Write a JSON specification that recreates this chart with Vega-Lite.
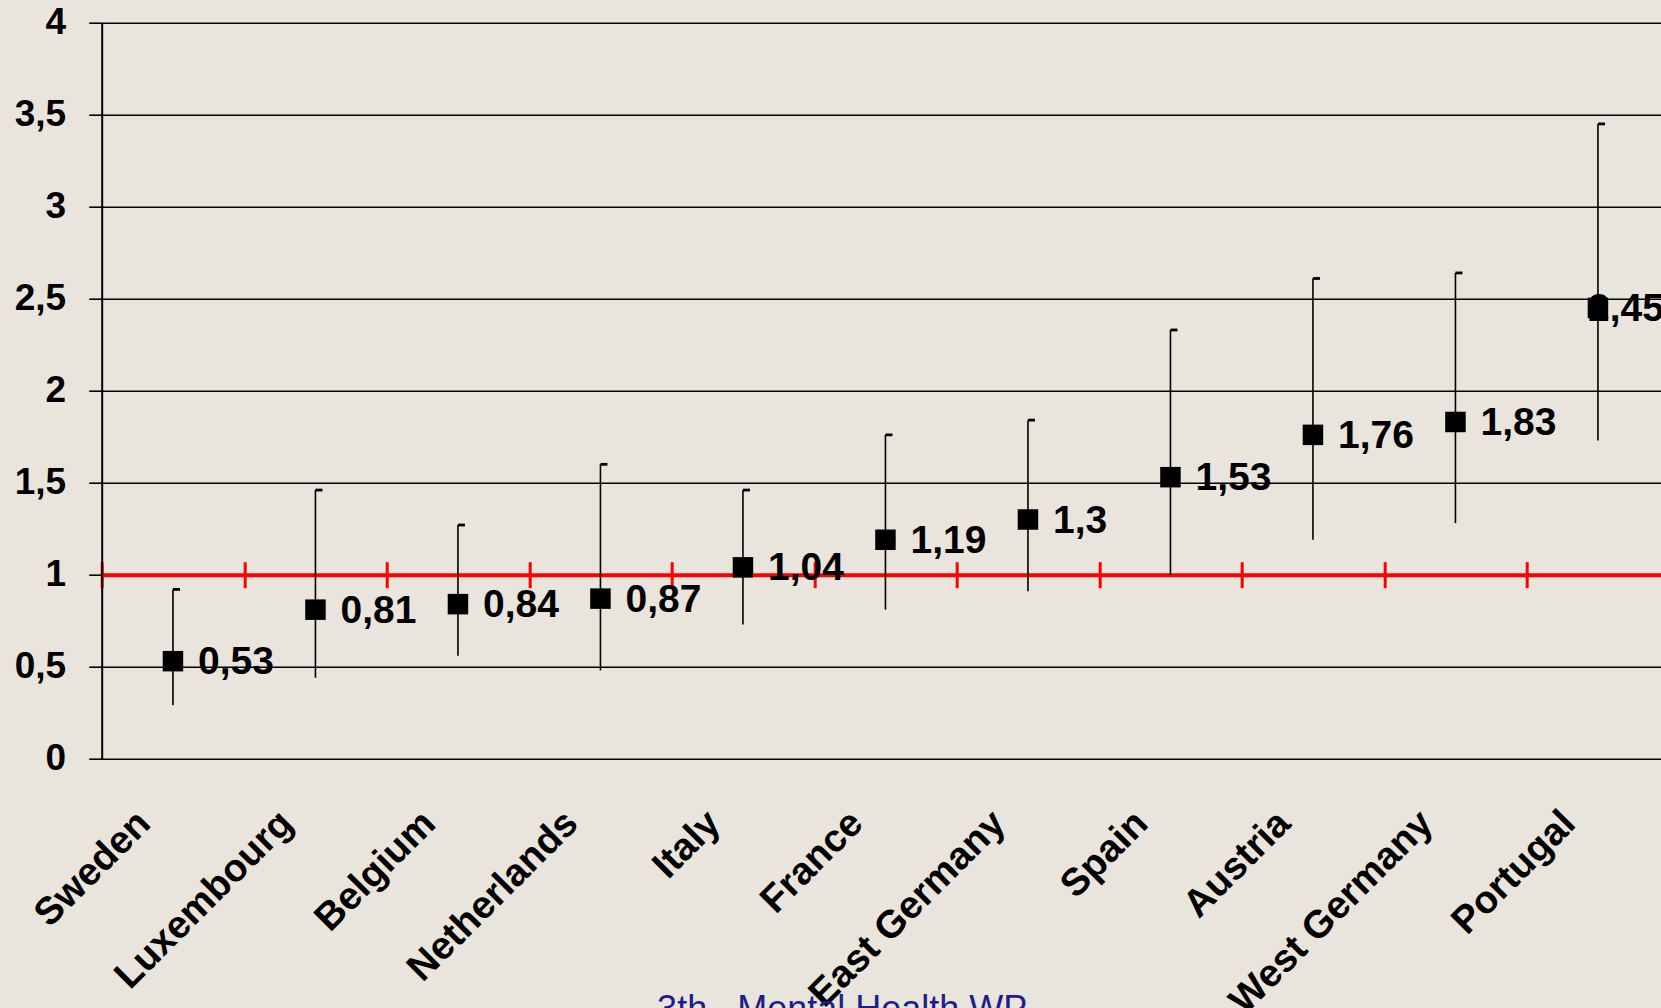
{
  "$schema": "https://vega.github.io/schema/vega-lite/v6.json",
  "autosize": "none",
  "width": 1559.3,
  "height": 736,
  "padding": {"left": 101.7, "top": 22.7, "right": 0, "bottom": 249.3},
  "background": "#e9e5dc",
  "config": {
    "view": {"stroke": null},
    "font": "Liberation Sans",
    "locale": {"number": {"decimal": ",", "thousands": ".", "grouping": [3], "currency": ["", " €"]}}
  },
  "data": {
    "values": [
      {"country": "Sweden", "or": 0.53, "lo": 0.29, "hi": 0.92},
      {"country": "Luxembourg", "or": 0.81, "lo": 0.44, "hi": 1.46},
      {"country": "Belgium", "or": 0.84, "lo": 0.56, "hi": 1.27},
      {"country": "Netherlands", "or": 0.87, "lo": 0.48, "hi": 1.60},
      {"country": "Italy", "or": 1.04, "lo": 0.73, "hi": 1.46},
      {"country": "France", "or": 1.19, "lo": 0.81, "hi": 1.76},
      {"country": "East Germany", "or": 1.30, "lo": 0.91, "hi": 1.84},
      {"country": "Spain", "or": 1.53, "lo": 1.00, "hi": 2.33},
      {"country": "Austria", "or": 1.76, "lo": 1.19, "hi": 2.61},
      {"country": "West Germany", "or": 1.83, "lo": 1.28, "hi": 2.64},
      {"country": "Portugal", "or": 2.45, "lo": 1.73, "hi": 3.45}
    ]
  },
  "resolve": {"axis": {"x": "independent"}},
  "layer": [
    {
      "mark": {"type": "rule", "color": "#000000", "strokeWidth": 1.6},
      "encoding": {
        "x": {
          "field": "country", "type": "nominal", "sort": null,
          "scale": {"type": "band", "paddingInner": 0, "paddingOuter": 0, "range": [0, 1567.5]},
          "axis": {
            "orient": "bottom", "offset": -184, "title": null, "labels": false, "grid": false,
            "domain": false, "ticks": true, "tickBand": "extent", "tickColor": "#ff0000",
            "tickWidth": 3, "tickSize": 13
          }
        },
        "y": {
          "field": "lo", "type": "quantitative", "title": null,
          "scale": {"domain": [0, 4], "nice": false, "zero": true},
          "axis": {
            "values": [0, 0.5, 1, 1.5, 2, 2.5, 3, 3.5, 4],
            "format": "~g",
            "title": null,
            "grid": true,
            "gridColor": {"condition": {"test": "datum.value === 1", "value": "#ff0000"}, "value": "#000000"},
            "gridWidth": {"condition": {"test": "datum.value === 1", "value": 4}, "value": 1.6},
            "gridOpacity": 1,
            "domain": true, "domainColor": "#000000", "domainWidth": 2,
            "ticks": true, "tickColor": "#000000", "tickWidth": 1.6, "tickSize": 13,
            "labelFont": "Liberation Sans", "labelFontSize": 37, "labelFontWeight": "bold",
            "labelColor": "#000000", "labelPadding": 23
          }
        },
        "y2": {"field": "hi"}
      }
    },
    {
      "mark": {"type": "point", "shape": "M0,-0.2H1V0.2H0Z", "size": 196, "filled": true, "color": "#000000", "opacity": 1},
      "encoding": {
        "x": {
          "field": "country", "type": "nominal", "sort": null,
          "scale": {"type": "band", "paddingInner": 0, "paddingOuter": 0, "range": [0, 1567.5]},
          "axis": {
            "orient": "top", "offset": -552, "title": null, "labels": false, "grid": false,
            "domain": false, "ticks": true, "tickBand": "extent", "tickColor": "#ff0000",
            "tickWidth": 3, "tickSize": 13
          }
        },
        "y": {"field": "hi", "type": "quantitative", "title": null, "scale": {"domain": [0, 4], "nice": false}}
      }
    },
    {
      "mark": {"type": "point", "shape": "square", "size": 420, "filled": true, "color": "#000000", "opacity": 1},
      "encoding": {
        "x": {
          "field": "country", "type": "nominal", "sort": null,
          "scale": {"type": "band", "paddingInner": 0, "paddingOuter": 0, "range": [0, 1567.5]},
          "axis": {
            "orient": "bottom",
            "title": "3th.\u00a0 Mental Health WP",
            "titleX": 740, "titleY": 262, "titleAlign": "center", "titleBaseline": "alphabetic",
            "titleFont": "Liberation Sans", "titleFontSize": 36, "titleFontWeight": "normal", "titleColor": "#1e1e8a",
            "grid": false, "domain": false, "ticks": false, "tickSize": 0,
            "labelAngle": -45, "labelAlign": "right", "labelBaseline": "middle",
            "labelPadding": 58, "labelOffset": -29, "labelFont": "Liberation Sans",
            "labelFontSize": 38.5, "labelFontWeight": "bold", "labelColor": "#000000",
            "labelOverlap": false, "labelLimit": 500, "labelBound": false, "labelFlush": false
          }
        },
        "y": {"field": "or", "type": "quantitative", "title": null, "scale": {"domain": [0, 4], "nice": false}}
      }
    },
    {
      "transform": [{"filter": "datum.country !== 'Portugal'"}],
      "mark": {"type": "text", "align": "left", "baseline": "middle", "dx": 25, "dy": 1, "font": "Liberation Sans", "fontSize": 39, "fontWeight": "bold", "color": "#000000"},
      "encoding": {
        "x": {
          "field": "country", "type": "nominal", "sort": null,
          "scale": {"type": "band", "paddingInner": 0, "paddingOuter": 0, "range": [0, 1567.5]},
          "axis": null
        },
        "y": {"field": "or", "type": "quantitative", "title": null, "scale": {"domain": [0, 4], "nice": false}},
        "text": {"field": "or", "type": "quantitative", "format": ".3~g"}
      }
    },
    {
      "transform": [{"filter": "datum.country === 'Portugal'"}],
      "mark": {"type": "text", "align": "left", "baseline": "middle", "dx": -10, "dy": 1, "font": "Liberation Sans", "fontSize": 39, "fontWeight": "bold", "color": "#000000"},
      "encoding": {
        "x": {
          "field": "country", "type": "nominal", "sort": null,
          "scale": {"type": "band", "paddingInner": 0, "paddingOuter": 0, "range": [0, 1567.5]},
          "axis": null
        },
        "y": {"field": "or", "type": "quantitative", "title": null, "scale": {"domain": [0, 4], "nice": false}},
        "text": {"field": "or", "type": "quantitative", "format": ".3~g"}
      }
    }
  ]
}
